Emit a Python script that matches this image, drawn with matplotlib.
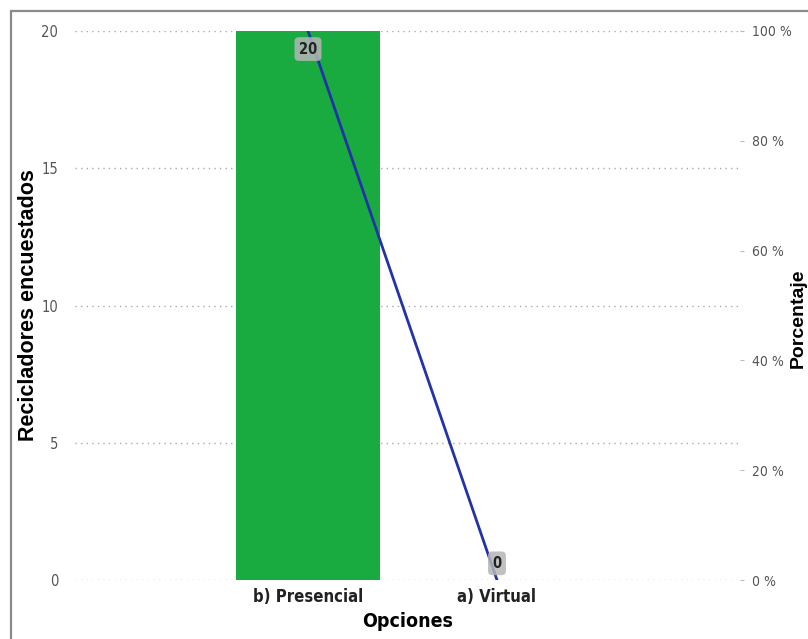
import matplotlib
matplotlib.use("Agg")
import matplotlib.pyplot as plt
from matplotlib.patches import Rectangle
from matplotlib.ticker import FuncFormatter

# data
opciones   = ["b) Presencial", "a) Virtual"]
recicladores = [20, 0]
porcentaje = [100, 0]

plt.rcParams["font.family"] = ["DejaVu Sans"]
plt.rcParams["font.stretch"] = "condensed"

fig = plt.figure(figsize=(8.08, 6.39), dpi=100)
ax = fig.add_axes([75/808, 1-580/639, 665/808, 549/639])

x = list(range(len(opciones)))
ax.bar(x, recicladores, width=0.757, color="#1aab40", zorder=3)
ax.set_xlim(-1.233, 2.286)
ax.set_ylim(0, 20)
ax.set_yticks([0, 5, 10, 15, 20])
ax.set_xticks(x)
ax.set_xticklabels(opciones, fontsize=12, fontweight="bold", color="#222222")
ax.yaxis.grid(True, color="#aaaaaa", linestyle=(0, (1, 3)), linewidth=1, zorder=0)
ax.tick_params(axis="y", length=0, pad=12, labelsize=10.5, labelcolor="#555555")
ax.tick_params(axis="x", length=0, pad=6)
for s in ax.spines.values():
    s.set_visible(False)
ax.set_xlabel("Opciones", fontsize=14, fontweight="bold", labelpad=4)
ax.set_ylabel("Recicladores encuestados", fontsize=15.5, fontweight="bold",
              family=["Liberation Sans", "DejaVu Sans"], stretch="normal", labelpad=2)

ax2 = ax.twinx()
ax2.plot(x, porcentaje, color="#2233aa", linewidth=2, zorder=4)
ax2.set_ylim(0, 100)
ax2.set_yticks([0, 20, 40, 60, 80, 100])
ax2.yaxis.set_major_formatter(FuncFormatter(lambda v, p: f"{v:.0f} %"))
ax2.tick_params(axis="y", length=3, width=0.8, color="#bbbbbb", pad=6,
                labelsize=10, labelcolor="#555555")
for s in ax2.spines.values():
    s.set_visible(False)

for xi, v, p, dy in zip(x, recicladores, porcentaje, [-13, 12]):
    ax2.annotate(f"{v}", (xi, p), xytext=(0, dy), textcoords="offset points",
                 ha="center", va="center", fontsize=10.5, fontweight="bold",
                 color="#222222", zorder=6,
                 bbox=dict(boxstyle="round,pad=0.3", fc="#b5b5b5", ec="none", alpha=0.85))

fig.text(798/808, 1-318/639, "Porcentaje", rotation=90, ha="center", va="center",
         fontsize=14, fontweight="bold", family=["Liberation Sans", "DejaVu Sans"], stretch="normal")

# outer frame of the original panel (cut on right and bottom)
fig.patches.append(Rectangle((11/808, -0.1), 1.2, 1-11/639+0.1, transform=fig.transFigure,
                             fill=False, ec="#8a8a8a", lw=1.6, zorder=0))

fig.savefig("out.png", dpi=100)
